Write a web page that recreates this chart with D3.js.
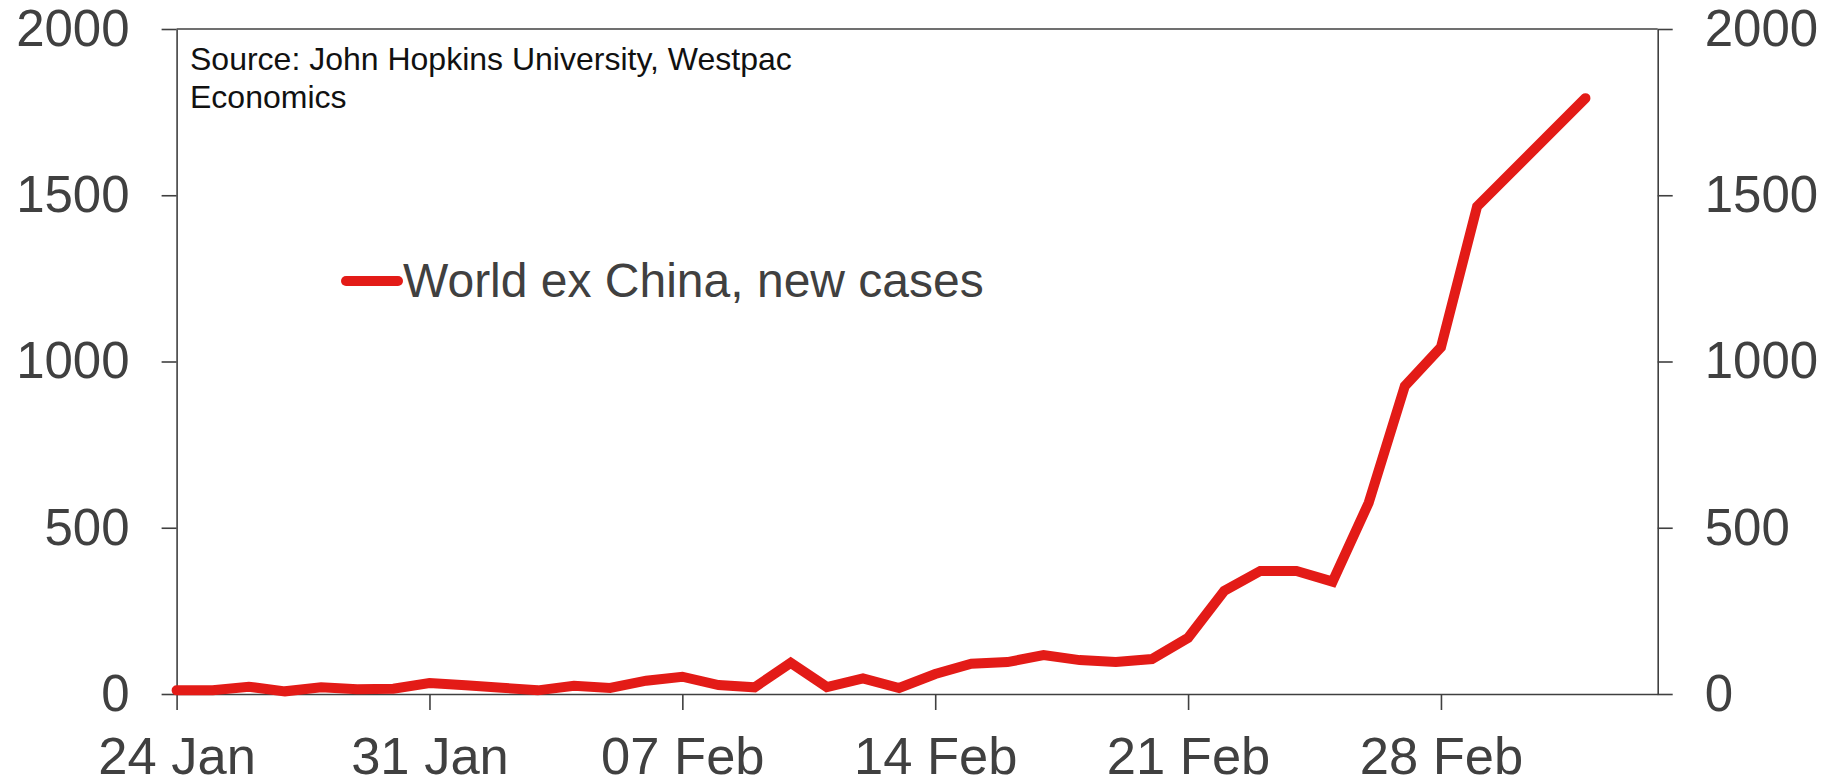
<!DOCTYPE html>
<html>
<head>
<meta charset="utf-8">
<script src="https://cdn.jsdelivr.net/npm/d3@7"></script>
<style>
  html, body { margin: 0; padding: 0; background: #fff; }
  svg { display: block; }
  text { font-family: "Liberation Sans", Arial, sans-serif; }
</style>
</head>
<body>
<svg id="chart" width="1837" height="781"></svg>
<script>
// ---- data ----
const dates = [
  "2020-01-24","2020-01-25","2020-01-26","2020-01-27","2020-01-28","2020-01-29","2020-01-30",
  "2020-01-31","2020-02-01","2020-02-02","2020-02-03","2020-02-04","2020-02-05","2020-02-06",
  "2020-02-07","2020-02-08","2020-02-09","2020-02-10","2020-02-11","2020-02-12","2020-02-13",
  "2020-02-14","2020-02-15","2020-02-16","2020-02-17","2020-02-18","2020-02-19","2020-02-20",
  "2020-02-21","2020-02-22","2020-02-23","2020-02-24","2020-02-25","2020-02-26","2020-02-27",
  "2020-02-28","2020-02-29","2020-03-03"
];
const newCases = [
  11, 11, 22, 8, 20, 14, 16,
  33, 26, 19, 11, 25, 18, 40,
  52, 27, 20, 94, 21, 47, 18,
  60, 91, 96, 117, 102, 96, 105,
  169, 310, 370, 370, 338, 575, 926,
  1043, 1466, 1792
];
const seriesName = "World ex China, new cases";
const sourceLines = ["Source: John Hopkins University, Westpac", "Economics"];
const yTicks = [0, 500, 1000, 1500, 2000];
const xTickDates = ["2020-01-24","2020-01-31","2020-02-07","2020-02-14","2020-02-21","2020-02-28"];
const xDomain = ["2020-01-24","2020-03-05"];
const yDomain = [0, 2000];

// ---- layout ----
const parse = d3.utcParse("%Y-%m-%d");
const fmt = d3.utcFormat("%d %b");
const plotL = 176.6, plotR = 1657.7, plotT = 29, plotB = 694;
const axisColor = "#404040";
const textColor = "#404040";
const red = "#e31b17";

const svg = d3.select("#chart");

const x = d3.scaleUtc().domain(xDomain.map(parse)).range([plotL, plotR]);
const y = d3.scaleLinear().domain(yDomain).range([plotB, plotT]);

const data = dates.map((d, i) => ({ date: parse(d), value: newCases[i] }));

// left axis
const gL = svg.append("g").attr("transform", `translate(${plotL},0)`)
  .call(d3.axisLeft(y).tickValues(yTicks).tickFormat(d3.format("d"))
    .tickSize(15).tickSizeOuter(0).tickPadding(32));
// right axis
const gR = svg.append("g").attr("transform", `translate(${plotR},0)`)
  .call(d3.axisRight(y).tickValues(yTicks).tickFormat(d3.format("d"))
    .tickSize(15).tickSizeOuter(0).tickPadding(32));
// bottom axis
const gB = svg.append("g").attr("transform", `translate(0,${plotB})`)
  .call(d3.axisBottom(x).tickValues(xTickDates.map(parse)).tickFormat(fmt)
    .tickSize(16).tickSizeOuter(0).tickPadding(27));

[gL, gR, gB].forEach(g => {
  g.selectAll(".domain").attr("stroke", axisColor).attr("stroke-width", 1.6);
  g.selectAll(".tick line").attr("stroke", axisColor).attr("stroke-width", 1.6);
  g.selectAll(".tick text").attr("fill", textColor)
    .style("font-family", '"Liberation Sans", Arial, sans-serif')
    .style("font-size", "51px");
});
gB.selectAll(".tick text").style("font-size", "52.5px");

// top frame line
svg.append("line")
  .attr("x1", plotL).attr("x2", plotR)
  .attr("y1", y(yDomain[1])).attr("y2", y(yDomain[1]))
  .attr("stroke", axisColor).attr("stroke-width", 1.6);

// series line
const line = d3.line().x(d => x(d.date)).y(d => y(d.value));
svg.append("path")
  .datum(data)
  .attr("d", line)
  .attr("fill", "none")
  .attr("stroke", red)
  .attr("stroke-width", 10)
  .attr("stroke-linejoin", "miter")
  .attr("stroke-linecap", "round");

// source text
const src = svg.append("text")
  .attr("x", 190).attr("y", 70)
  .attr("fill", "#111")
  .style("font-size", "32px");
src.selectAll("tspan").data(sourceLines).enter().append("tspan")
  .attr("x", 190)
  .attr("dy", (d, i) => i === 0 ? 0 : 38)
  .text(d => d);

// legend
svg.append("line")
  .attr("x1", 346).attr("x2", 398)
  .attr("y1", 281).attr("y2", 281)
  .attr("stroke", red).attr("stroke-width", 10)
  .attr("stroke-linecap", "round");
svg.append("text")
  .attr("x", 403).attr("y", 297)
  .attr("fill", textColor)
  .style("font-size", "48px")
  .text(seriesName);
</script>
</body>
</html>
